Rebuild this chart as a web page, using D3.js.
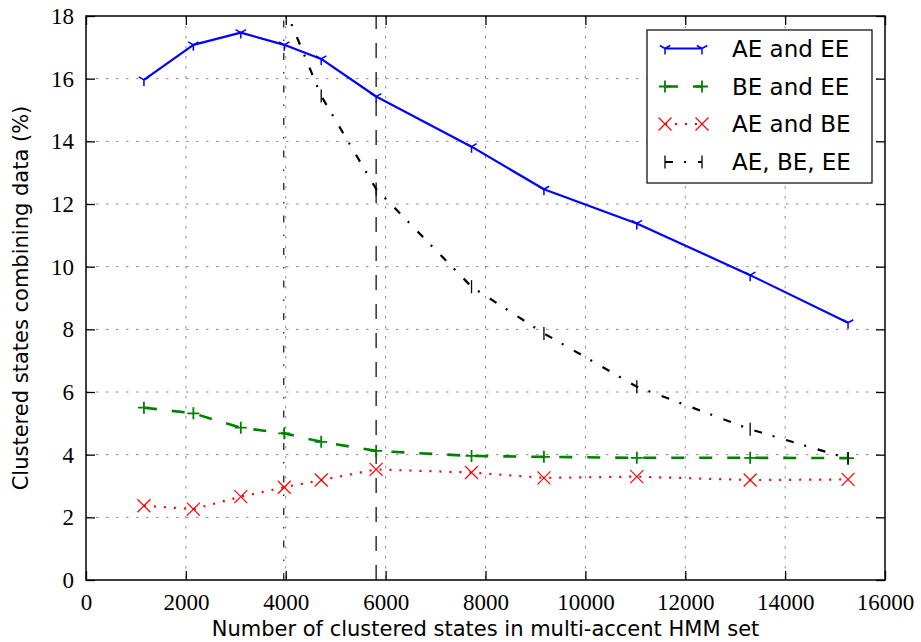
<!DOCTYPE html>
<html>
<head>
<meta charset="utf-8">
<script src="https://cdn.jsdelivr.net/npm/d3@7/dist/d3.min.js"></script>
<style>
  html, body { margin: 0; padding: 0; background: #fff; }
  svg { display: block; }
</style>
</head>
<body>
<svg id="chart" width="921" height="642"></svg>
<script>
// ---------------- data ----------------
const xStates = [1160, 2150, 3100, 3970, 4710, 5810, 7720, 9170, 11030, 13300, 15260];
const aeEE   = [15.96, 17.08, 17.47, 17.08, 16.63, 15.43, 13.83, 12.47, 11.38, 9.73, 8.21];
const beEE   = [5.50, 5.32, 4.86, 4.68, 4.41, 4.12, 3.96, 3.93, 3.90, 3.90, 3.89];
const aeBE   = [2.37, 2.26, 2.66, 2.96, 3.19, 3.53, 3.43, 3.26, 3.30, 3.19, 3.21];
const xAll   = [3970, 4710, 5810, 7720, 9170, 11030, 13300, 15260];
const aeBeEE = [18.3, 15.45, 12.48, 9.36, 7.87, 6.17, 4.81, 3.88];
const markerLinesDashDot = [3960];
const markerLinesDashed  = [5810];
const xTicks = [0, 2000, 4000, 6000, 8000, 10000, 12000, 14000, 16000];
const yTicks = [0, 2, 4, 6, 8, 10, 12, 14, 16, 18];
const seriesNames = ["AE and EE", "BE and EE", "AE and BE", "AE, BE, EE"];
const xLabel = "Number of clustered states in multi-accent HMM set";
const yLabel = "Clustered states combining data (%)";

// ---------------- layout ----------------
const L = 86, R = 885, T = 16, B = 580;
const svg = d3.select("#chart");
const x = d3.scaleLinear().domain([0, 16000]).range([L, R]);
const y = d3.scaleLinear().domain([0, 18]).range([B, T]);

const tickFont = "'Liberation Serif', 'DejaVu Serif', serif";
const labelFont = "'DejaVu Sans', sans-serif";

svg.append("defs").append("clipPath").attr("id", "plotclip")
  .append("rect").attr("x", L).attr("y", T).attr("width", R - L).attr("height", B - T);

// grid
const grid = svg.append("g");
grid.selectAll("line.vx").data(xTicks.slice(1, -1)).join("line")
  .attr("x1", d => x(d)).attr("x2", d => x(d)).attr("y1", T).attr("y2", B)
  .attr("stroke", "#888").attr("stroke-width", 1).attr("stroke-dasharray", "2.5,7.5");
grid.selectAll("line.hy").data(yTicks.slice(1, -1)).join("line")
  .attr("y1", d => y(d)).attr("y2", d => y(d)).attr("x1", L).attr("x2", R)
  .attr("stroke", "#888").attr("stroke-width", 1).attr("stroke-dasharray", "2.5,7.5");

// vertical reference lines
const plot = svg.append("g").attr("clip-path", "url(#plotclip)");
plot.selectAll("line.vdd").data(markerLinesDashDot).join("line")
  .attr("x1", d => x(d)).attr("x2", d => x(d)).attr("y1", B).attr("y2", T)
  .attr("stroke", "#111").attr("stroke-width", 1.2).attr("stroke-dasharray", "7,12,1.5,12");
plot.selectAll("line.vd").data(markerLinesDashed).join("line")
  .attr("x1", d => x(d)).attr("x2", d => x(d)).attr("y1", B).attr("y2", T)
  .attr("stroke", "#111").attr("stroke-width", 1.3).attr("stroke-dasharray", "15,14");

// marker shapes
function markerPath(type, r) {
  if (type === "tri") {
    const a = 0.866 * r, b = 0.5 * r;
    return `M0,0L0,${r}M0,0L${-a},${-b}M0,0L${a},${-b}`;
  }
  if (type === "plus") return `M${-r},0L${r},0M0,${-r}L0,${r}`;
  if (type === "x") return `M${-r},${-r}L${r},${r}M${-r},${r}L${r},${-r}`;
  if (type === "vline") return `M0,${-r}L0,${r}`;
  return "";
}

const series = [
  { name: seriesNames[0], xs: xStates, ys: aeEE,   color: "#0000ff", dash: null,           lw: 2.2, marker: "tri",   mr: 6,   mw: 1.5 },
  { name: seriesNames[1], xs: xStates, ys: beEE,   color: "#008000", dash: "13,15",        lw: 2.6, marker: "plus",  mr: 6,   mw: 1.8 },
  { name: seriesNames[2], xs: xStates, ys: aeBE,   color: "#ff0000", dash: "2,8",          lw: 2.2, marker: "x",     mr: 6.5, mw: 1.2 },
  { name: seriesNames[3], xs: xAll,    ys: aeBeEE, color: "#000000", dash: "8,11,2,12",    lw: 2.2, marker: "vline", mr: 6.5, mw: 1.3 }
];

const line = d3.line().x(d => x(d[0])).y(d => y(d[1]));
series.forEach(s => {
  const pts = s.xs.map((v, i) => [v, s.ys[i]]);
  plot.append("path").datum(pts).attr("d", line)
    .attr("fill", "none").attr("stroke", s.color).attr("stroke-width", s.lw)
    .attr("stroke-dasharray", s.dash).attr("stroke-linejoin", "round");
  plot.selectAll(null).data(pts).join("path")
    .attr("transform", d => `translate(${x(d[0])},${y(d[1])})`)
    .attr("d", markerPath(s.marker, s.mr))
    .attr("fill", "none").attr("stroke", s.color).attr("stroke-width", s.mw);
});

// axes frame and ticks (inward, all four sides)
const tickLen = 9;
const axes = svg.append("g");
axes.append("rect").attr("x", L).attr("y", T).attr("width", R - L).attr("height", B - T)
  .attr("fill", "none").attr("stroke", "#000").attr("stroke-width", 1.5);

const xb = d3.axisBottom(x).tickValues(xTicks).tickSize(-tickLen).tickPadding(14).tickFormat(d3.format("d"));
const gx = axes.append("g").attr("transform", `translate(0,${B})`).call(xb);
const xt = d3.axisTop(x).tickValues(xTicks).tickSize(-tickLen).tickFormat("");
axes.append("g").attr("transform", `translate(0,${T})`).call(xt);
const yl = d3.axisLeft(y).tickValues(yTicks).tickSize(-tickLen).tickPadding(12).tickFormat(d3.format("d"));
const gy = axes.append("g").attr("transform", `translate(${L},0)`).call(yl);
const yr = d3.axisRight(y).tickValues(yTicks).tickSize(-tickLen).tickFormat("");
axes.append("g").attr("transform", `translate(${R},0)`).call(yr);

axes.selectAll(".domain").remove();
axes.selectAll(".tick line").attr("stroke", "#000").attr("stroke-width", 1.3);
axes.selectAll(".tick text").attr("font-family", tickFont).attr("font-size", 23).attr("fill", "#000");

// axis labels
svg.append("text").attr("x", (L + R) / 2).attr("y", 636)
  .attr("text-anchor", "middle").attr("font-family", labelFont).attr("font-size", 21)
  .text(xLabel);
svg.append("text").attr("transform", `translate(28,${(T + B) / 2}) rotate(-90)`)
  .attr("text-anchor", "middle").attr("font-family", labelFont).attr("font-size", 21)
  .text(yLabel);

// legend
const lg = svg.append("g");
lg.append("rect").attr("x", 647).attr("y", 30).attr("width", 225).attr("height", 153)
  .attr("fill", "#fff").attr("stroke", "#000").attr("stroke-width", 1.2);
const rowY = [48.5, 86.5, 124, 162];
series.forEach((s, i) => {
  const yy = rowY[i];
  lg.append("line").attr("x1", 665).attr("x2", 702).attr("y1", yy).attr("y2", yy)
    .attr("stroke", s.color).attr("stroke-width", s.lw).attr("stroke-dasharray", s.dash);
  [665, 702].forEach(px => {
    lg.append("path").attr("transform", `translate(${px},${yy})`)
      .attr("d", markerPath(s.marker, s.mr)).attr("fill", "none")
      .attr("stroke", s.color).attr("stroke-width", s.mw);
  });
  lg.append("text").attr("x", 732).attr("y", yy).attr("dy", "0.36em")
    .attr("font-family", labelFont).attr("font-size", 23).attr("fill", "#000")
    .text(s.name);
});
</script>
</body>
</html>
